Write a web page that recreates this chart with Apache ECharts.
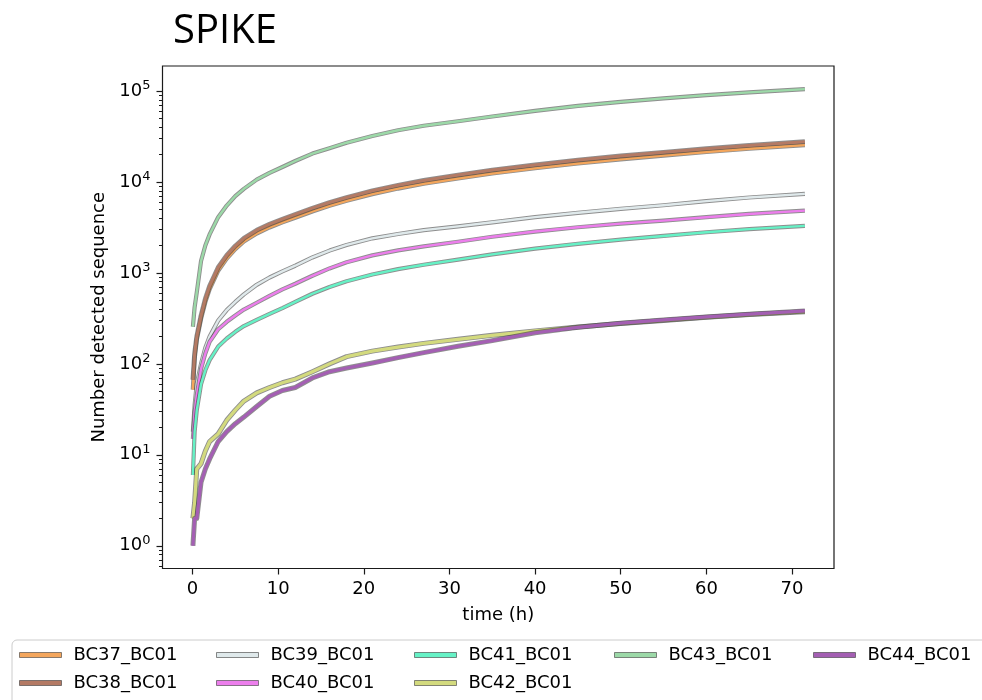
<!DOCTYPE html>
<html>
<head>
<meta charset="utf-8">
<script src="https://cdn.jsdelivr.net/npm/echarts@6/dist/echarts.min.js"></script>
<style>
  html, body { margin: 0; padding: 0; background: #ffffff; }
  #chart { width: 982px; height: 700px; }
</style>
</head>
<body>
<div id="chart"></div>
<script>
// Sampling times (hours) shared by every barcode curve
const hours = [0.05, 0.25, 0.5, 1, 1.5, 2, 3, 4, 5, 6, 7.5, 9, 10.5, 12, 14, 16, 18, 21, 24, 27, 31, 35, 40, 45, 50, 55, 60, 65, 71.5];

// Cumulative number of detected sequences per barcode
const bc37 = [52, 115, 185, 315, 480, 665, 1060, 1440, 1830, 2220, 2720, 3170, 3600, 4060, 4750, 5480, 6220, 7370, 8480, 9580, 10960, 12430, 14180, 16020, 17800, 19550, 21400, 23250, 25500];
const bc38 = [67, 130, 200, 340, 520, 720, 1150, 1560, 1980, 2400, 2950, 3430, 3900, 4400, 5150, 5950, 6750, 8000, 9200, 10400, 11900, 13500, 15400, 17400, 19300, 21200, 23200, 25200, 27700];
const bc39 = [18, 35, 60, 100, 150, 200, 300, 390, 480, 580, 740, 890, 1040, 1200, 1480, 1760, 2030, 2400, 2680, 2950, 3250, 3600, 4100, 4580, 5070, 5550, 6150, 6750, 7400];
const bc40 = [15, 29, 45, 88, 130, 175, 240, 290, 340, 395, 470, 560, 660, 760, 930, 1120, 1310, 1560, 1770, 1960, 2200, 2500, 2850, 3180, 3480, 3760, 4100, 4450, 4840];
const bc41 = [6, 18, 31, 60, 85, 110, 155, 190, 225, 260, 305, 355, 410, 480, 590, 700, 810, 960, 1100, 1230, 1400, 1600, 1850, 2090, 2320, 2550, 2800, 3030, 3290];
const bc42 = [2, 3, 7, 8, 11, 14, 17, 24, 31, 39, 48, 55, 62, 68, 82, 100, 120, 138, 153, 168, 186, 206, 230, 254, 278, 300, 325, 348, 375];
const bc43 = [256, 420, 610, 1350, 2000, 2650, 4100, 5500, 7000, 8400, 10600, 12600, 14600, 17000, 20500, 23500, 27000, 32000, 37000, 41500, 46500, 52500, 60500, 68500, 76000, 83000, 90000, 96500, 105000];
const bc44 = [1, 2, 2, 5, 7, 9, 14, 18, 22, 26, 34, 44, 51, 55, 70, 82, 90, 102, 117, 133, 156, 180, 220, 252, 280, 304, 328, 352, 382];

const seriesNames = ['BC37_BC01', 'BC38_BC01', 'BC39_BC01', 'BC40_BC01', 'BC41_BC01', 'BC42_BC01', 'BC43_BC01', 'BC44_BC01'];
const seriesValues = [bc37, bc38, bc39, bc40, bc41, bc42, bc43, bc44];
const seriesColors = ['#f4a65c', '#b47a64', '#dfe9eb', '#ec7eec', '#66f2c6', '#d3da7e', '#9cd9a8', '#a45fb3'];
// thicker strokes for the two low-count barcodes and the brown curve
const seriesWidths = [2.6, 3, 2.4, 2.4, 2.4, 3.2, 2.4, 3.2];

// Axis ticks
const xTicks = [0, 10, 20, 30, 40, 50, 60, 70];
const yDecades = [0, 1, 2, 3, 4, 5];
const yMinorMultipliers = [2, 3, 4, 5, 6, 7, 8, 9];

// Legend layout: column-major, 5 columns
const legendColumns = [
  ['BC37_BC01', 'BC38_BC01'],
  ['BC39_BC01', 'BC40_BC01'],
  ['BC41_BC01', 'BC42_BC01'],
  ['BC43_BC01'],
  ['BC44_BC01']
];
const legendLefts = [19, 216, 414, 614, 813];

// Y range in log10 units
const logMin = -0.25;
const logMax = 5.275;

const minorLogTicks = [];
for (let d = -1; d <= 5; d++) {
  yMinorMultipliers.forEach(m => {
    const v = d + Math.log10(m);
    if (v > logMin && v < logMax) minorLogTicks.push(v);
  });
}

const FONT = 'DejaVu Sans';
const edgeColor = 'rgba(50,50,50,0.55)';

const series = [];
seriesValues.forEach((vals, i) => {
  const pts = hours.map((t, k) => [t, vals[k]]);
  // dark outline drawn under each coloured curve
  series.push({
    type: 'line', name: seriesNames[i] + ' outline', data: pts,
    symbol: 'none', silent: true, animation: false, z: 2 + i * 2,
    lineStyle: { color: edgeColor, width: seriesWidths[i] + 1.8, join: 'round', cap: 'butt' }
  });
  series.push({
    type: 'line', name: seriesNames[i], data: pts,
    symbol: 'none', animation: false, z: 3 + i * 2,
    itemStyle: { color: seriesColors[i] },
    lineStyle: { color: seriesColors[i], width: seriesWidths[i], join: 'round', cap: 'butt' }
  });
});

const legends = legendColumns.map((names, c) => ({
  orient: 'vertical',
  left: legendLefts[c],
  top: 645,
  height: 52,
  padding: 0,
  data: names,
  icon: 'rect',
  itemWidth: 42,
  itemHeight: 5,
  itemGap: 8,
  selectedMode: false,
  itemStyle: { borderColor: 'rgba(60,60,60,0.6)', borderWidth: 1 },
  textStyle: { fontFamily: FONT, fontSize: 18, color: '#000', lineHeight: 20, padding: [0, 0, 0, 7] }
}));

const chart = echarts.init(document.getElementById('chart'), null, { renderer: 'canvas' });
chart.setOption({
  backgroundColor: '#ffffff',
  animation: false,
  title: {
    text: 'SPIKE', left: 168, top: 7,
    textStyle: { fontFamily: 'Open Sans', fontSize: 40, fontWeight: 'normal', color: '#000' }
  },
  grid: {
    left: 162.5, right: 148, top: 66, bottom: 131.5,
    show: true, borderColor: '#1a1a1a', borderWidth: 1.2, backgroundColor: 'transparent'
  },
  xAxis: {
    type: 'value', min: -3.5, max: 74.9,
    axisLine: { show: false, onZero: false },
    splitLine: { show: false },
    axisTick: { show: true, customValues: xTicks, length: 6, lineStyle: { color: '#1a1a1a', width: 1.2 } },
    axisLabel: { customValues: xTicks, fontFamily: FONT, fontSize: 18, color: '#000', margin: 12 },
    name: 'time (h)', nameLocation: 'middle', nameGap: 38,
    nameTextStyle: { fontFamily: FONT, fontSize: 18, color: '#000' }
  },
  yAxis: [
    {
      type: 'log', logBase: 10,
      min: Math.pow(10, logMin), max: Math.pow(10, logMax),
      axisLine: { show: false, onZero: false },
      axisTick: { show: false },
      splitLine: { show: false },
      minorTick: { show: false },
      axisLabel: {
        showMinLabel: false, showMaxLabel: false, margin: 12,
        formatter: v => '{b|10}{s|' + Math.round(Math.log10(v)) + '}',
        rich: {
          b: { fontFamily: FONT, fontSize: 18, color: '#000', lineHeight: 24 },
          s: { fontFamily: FONT, fontSize: 13, color: '#000', lineHeight: 13, verticalAlign: 'top' }
        }
      },
      name: 'Number detected sequence', nameLocation: 'middle', nameGap: 53,
      nameTextStyle: { fontFamily: FONT, fontSize: 18, color: '#000' }
    },
    {
      type: 'value', min: logMin, max: logMax, position: 'left',
      axisLine: { show: false, onZero: false }, splitLine: { show: false }, axisLabel: { show: false },
      axisTick: { show: true, customValues: yDecades, length: 6, lineStyle: { color: '#1a1a1a', width: 1.2 } }
    },
    {
      type: 'value', min: logMin, max: logMax, position: 'left',
      axisLine: { show: false, onZero: false }, splitLine: { show: false }, axisLabel: { show: false },
      axisTick: { show: true, customValues: minorLogTicks, length: 3.5, lineStyle: { color: '#1a1a1a', width: 1 } }
    }
  ],
  legend: legends,
  graphic: [{
    type: 'rect', silent: true,
    shape: { x: 12, y: 640, width: 1000, height: 80, r: 5 },
    style: { fill: 'rgba(255,255,255,0.8)', stroke: '#cccccc', lineWidth: 1 },
    z: -1
  }],
  series: series
});
</script>
</body>
</html>
